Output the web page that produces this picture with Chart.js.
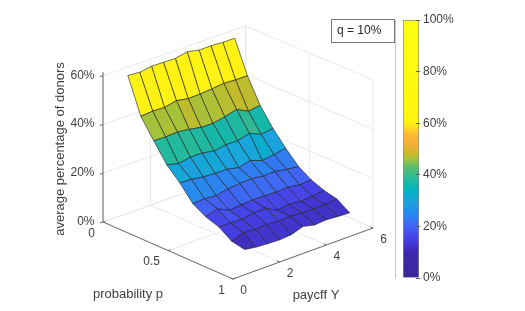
<!DOCTYPE html>
<html>
<head>
<meta charset="utf-8">
<title>q = 10%</title>
<script src="https://cdn.jsdelivr.net/npm/chart.js@4"></script>
<style>
    body { margin: 0; background: #fff; }
    #wrap { position: relative; width: 525px; height: 311px; overflow: hidden; }
    canvas { position: absolute; top: 0; }
    #main { left: 0; }
    #bar { left: 395px; }
</style>
</head>
<body>
<div id="wrap">
    <canvas id="main" width="525" height="311"></canvas>
    <canvas id="bar" width="130" height="311"></canvas>
</div>
<script>
// surface values
const probabilities = [0.1, 0.2, 0.3, 0.4, 0.5, 0.6, 0.7, 0.8, 0.9, 1];
const payoffs = [0.5, 1, 1.5, 2, 2.5, 3, 3.5, 4, 4.5, 5];
const donors = [
    [60.6, 60.2, 61.0, 60.9, 60.8, 61.8, 60.8, 60.9, 60.6, 60.6],
    [46.1, 46.5, 46.3, 47.4, 46.5, 46.7, 47.1, 47.7, 47.4, 47.4],
    [38.3, 38.2, 38.5, 37.9, 37.0, 36.9, 37.9, 39.2, 36.8, 37.5],
    [30.8, 29.5, 30.5, 30.5, 29.6, 30.4, 30.4, 31.7, 29.6, 30.3],
    [25.7, 25.4, 24.7, 24.4, 24.4, 23.4, 24.6, 22.9, 23.6, 24.5],
    [19.6, 19.8, 19.4, 20.4, 20.9, 21.1, 20.5, 20.7, 19.8, 19.3],
    [16.5, 18.0, 15.7, 16.2, 16.4, 16.5, 16.2, 16.5, 15.8, 16.1],
    [14.7, 14.6, 14.3, 15.2, 15.4, 12.9, 13.6, 13.1, 13.4, 14.1],
    [11.2, 12.9, 12.5, 12.8, 12.5, 12.7, 12.3, 12.3, 12.3, 12.9],
    [10.1, 9.4, 9.1, 8.9, 9.3, 10.9, 9.8, 10.2, 9.8, 9.6]
];

// axis ticks
const pTicks = [0, 0.5, 1];
const yTicks = [0, 2, 4, 6];
const zTicks = [0, 20, 40, 60];
const barTicks = [0, 20, 40, 60, 80, 100];

// colour scale of the colorbar
const colorStops = [0, 10, 14, 16.5, 20, 25, 30, 34, 38, 43, 46, 48, 52, 56, 60, 62, 100];
const colorValues = [
    [58, 40, 150], [62, 40, 175], [68, 58, 220], [70, 70, 235], [65, 100, 245], [40, 135, 240],
    [25, 165, 220], [0, 180, 195], [32, 185, 160], [90, 190, 110], [160, 195, 60], [200, 185, 40],
    [245, 175, 60], [255, 190, 50], [252, 240, 22], [255, 245, 15], [255, 255, 15]
];

// view of the 3D box: floor and 60% level at the corners (p, Y) = (0,0) (1,0) (1,6) (0,6)
const floorCorners = [[103, 222], [233, 279], [373, 228], [245.5, 171.5]];
const topCorners = [[103, 75.7], [233, 129], [373, 80], [245.7, 26]];

const fontName = '"Liberation Sans", Arial, sans-serif';
const textColor = '#404040';

function project(p, y, z) {
    const v = y / 6;
    const w = z / 60;
    const mix = function(c, k) {
        return (1 - p) * (1 - v) * c[0][k] + p * (1 - v) * c[1][k] + p * v * c[2][k] + (1 - p) * v * c[3][k];
    };
    return {
        x: mix(floorCorners, 0) * (1 - w) + mix(topCorners, 0) * w,
        y: mix(floorCorners, 1) * (1 - w) + mix(topCorners, 1) * w
    };
}

function colorOf(value) {
    let i = 0;
    while (i < colorStops.length - 2 && value > colorStops[i + 1]) i++;
    const t = (value - colorStops[i]) / (colorStops[i + 1] - colorStops[i]);
    const c = colorValues[i].map(function(a, k) {
        return Math.round(a + (colorValues[i + 1][k] - a) * t);
    });
    return 'rgb(' + c.join(',') + ')';
}

const datasets = [];

function addLine(points, color, width, order) {
    datasets.push({
        data: points, showLine: true, pointRadius: 0, borderColor: color,
        borderWidth: width, order: order, fill: false, tension: 0
    });
}

// grid on floor and back walls
const gridColor = '#e9e9e9';
zTicks.forEach(function(z) {
    addLine([project(0, 0, z), project(0, 6, z), project(1, 6, z)], gridColor, 1, 1000);
});
yTicks.forEach(function(y) {
    addLine([project(1, y, 0), project(0, y, 0), project(0, y, 60)], gridColor, 1, 1000);
});
pTicks.forEach(function(p) {
    addLine([project(p, 0, 0), project(p, 6, 0), project(p, 6, 60)], gridColor, 1, 1000);
});

// axes with their tick marks
const axisColor = '#6a6a6a';
addLine([project(0, 0, 0), project(1, 0, 0), project(1, 6, 0)], axisColor, 1, 900);
addLine([project(0, 0, 0), project(0, 0, 61.5)], axisColor, 1, 900);
zTicks.forEach(function(z) {
    addLine([project(0, 0, z), project(0, -0.13, z)], axisColor, 1, 900);
});
pTicks.forEach(function(p) {
    addLine([project(p, 0, 0), project(p, 0.1, 0)], axisColor, 1, 900);
});
yTicks.forEach(function(y) {
    addLine([project(1, y, 0), project(0.98, y, 0)], axisColor, 1, 900);
});

// surface cells, back ones first (lower order is painted on top)
for (let i = 0; i < probabilities.length - 1; i++) {
    for (let j = 0; j < payoffs.length - 1; j++) {
        const cell = [
            project(probabilities[i], payoffs[j], donors[i][j]),
            project(probabilities[i + 1], payoffs[j], donors[i + 1][j]),
            project(probabilities[i + 1], payoffs[j + 1], donors[i + 1][j + 1]),
            project(probabilities[i], payoffs[j + 1], donors[i][j + 1]),
            project(probabilities[i], payoffs[j], donors[i][j])
        ];
        datasets.push({
            data: cell, showLine: true, pointRadius: 0, tension: 0,
            fill: 'shape', backgroundColor: colorOf(donors[i][j]),
            borderColor: 'rgba(35,35,35,0.8)', borderWidth: 0.8,
            order: (9 - i) * 20 + j
        });
    }
}

// tick labels, axis titles and the note box
const boxText = {
    id: 'boxText',
    afterDraw: function(chart) {
        const ctx = chart.ctx;
        ctx.save();
        ctx.fillStyle = textColor;
        ctx.font = '12px ' + fontName;
        ctx.textBaseline = 'middle';

        ctx.textAlign = 'right';
        zTicks.forEach(function(z) {
            const a = project(0, 0, z);
            ctx.fillText(z + '%', a.x - 8.5, a.y - 0.5);
        });
        pTicks.forEach(function(p) {
            const a = project(p, 0, 0);
            ctx.fillText(String(p), a.x - 8, a.y + 11.5);
        });

        ctx.textAlign = 'center';
        yTicks.forEach(function(y) {
            const a = project(1, y, 0);
            ctx.fillText(String(y), a.x + 10.5, a.y + 12);
        });

        ctx.font = '13px ' + fontName;
        ctx.fillText('probability p', 128, 294);
        ctx.fillText('paycff Y', 316, 295.5);

        // note box
        ctx.strokeStyle = '#7a7a7a';
        ctx.lineWidth = 1;
        ctx.strokeRect(331.5, 19.5, 63, 23);
        ctx.fillStyle = '#262626';
        ctx.font = '12px ' + fontName;
        ctx.textAlign = 'left';
        ctx.fillText('q = 10%', 337, 31);

        ctx.fillStyle = textColor;
        ctx.font = '13px ' + fontName;
        ctx.textAlign = 'center';
        ctx.translate(60, 149);
        ctx.rotate(-Math.PI / 2);
        ctx.fillText('average percentage of donors', 0, 0);
        ctx.restore();
    }
};

new Chart(document.getElementById('main').getContext('2d'), {
    type: 'scatter',
    data: { datasets: datasets },
    options: {
        responsive: false,
        animation: false,
        layout: { padding: 0 },
        plugins: { legend: { display: false }, tooltip: { enabled: false } },
        scales: {
            x: { type: 'linear', min: 0, max: 525, display: false },
            y: { type: 'linear', min: 0, max: 311, reverse: true, display: false }
        }
    },
    plugins: [boxText]
});

// colorbar
new Chart(document.getElementById('bar').getContext('2d'), {
    type: 'bar',
    data: {
        labels: [''],
        datasets: [{
            data: [100],
            barPercentage: 1,
            categoryPercentage: 1,
            borderColor: '#8a8a8a',
            borderWidth: 1,
            backgroundColor: function(context) {
                const area = context.chart.chartArea;
                if (!area) return colorOf(0);
                const g = context.chart.ctx.createLinearGradient(0, area.bottom, 0, area.top);
                colorStops.forEach(function(s) {
                    g.addColorStop(s / 100, colorOf(s));
                });
                return g;
            }
        }]
    },
    options: {
        responsive: false,
        animation: false,
        layout: { padding: { left: 8, top: 20, bottom: 33 } },
        plugins: { legend: { display: false }, tooltip: { enabled: false } },
        scales: {
            x: { display: false },
            y: {
                position: 'right',
                min: 0,
                max: 100,
                afterBuildTicks: function(axis) {
                    axis.ticks = barTicks.map(function(v) { return { value: v }; });
                },
                afterFit: function(axis) { axis.width = 106; },
                grid: { drawOnChartArea: false, tickLength: -3, tickColor: '#5f5f5f', z: 1 },
                border: { color: '#8a8a8a' },
                ticks: {
                    color: textColor,
                    padding: 7,
                    font: { family: fontName, size: 12 },
                    callback: function(v) { return v + '%'; }
                }
            }
        }
    }
});
</script>
</body>
</html>
